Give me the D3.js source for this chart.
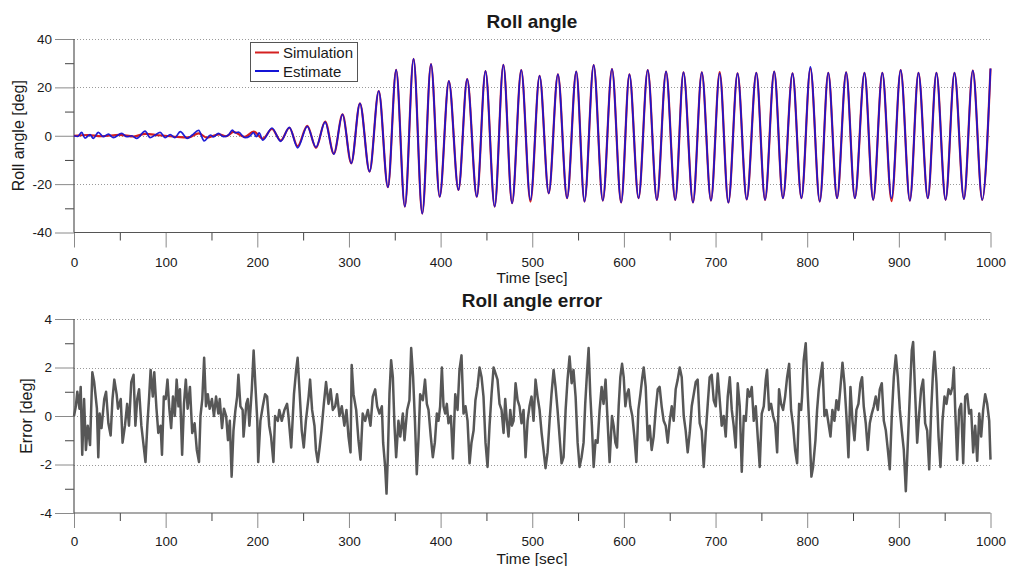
<!DOCTYPE html>
<html><head><meta charset="utf-8">
<script src="https://cdn.jsdelivr.net/npm/d3@7"></script>
<style>
body{margin:0;background:#fff;}
text{font-family:Arial,"Liberation Sans",sans-serif;fill:#1a1a1a;}
</style></head>
<body>
<script>
// ---------- DATA ----------
// x-axis ticks
const timeMajorTicks = [0,100,200,300,400,500,600,700,800,900,1000];
const timeMinorTicks = [50,150,250,350,450,550,650,750,850,950];
// top panel ticks
const rollMajorTicks = [-40,-20,0,20,40];
const rollMinorTicks = [-30,-10,10,30];
// bottom panel ticks
const errMajorTicks = [-4,-2,0,2,4];
const errMinorTicks = [-3,-1,1,3];

// Roll angle: [time s, deg] — early, small-amplitude part of the simulation
const simEarly = [[0,0],[15,0.3],[30,-0.2],[50,0.4],[65,-0.3],[78,0.8],[92,0.2],[108,-0.3],[125,-0.7],[136,1.0],[145,-0.8],[158,0.6],[166,-0.2],[174,1.6],[186,-0.5],[196,1.7],[206,-1.2],[216,2.8],[225.5,-2.0],[235,3.3],[244,-4.3],[254.5,4.1],[264,-5.0],[274,5.9],[283.5,-7.4]];
// early, noisy part of the estimate
const estEarly = [[0,0],[4,-0.3],[8.4,1.4],[12,-1],[17.5,0.5],[21,-1.1],[26.6,1.4],[32,-0.4],[37.5,0.7],[43,-0.8],[52,1],[57.7,-0.4],[63,0],[68.5,-1.1],[77.6,1.9],[83,-0.8],[88.5,0.3],[94,1.4],[99.5,-0.8],[105,0.5],[110,-0.8],[116,1.7],[123.5,-1.1],[129,0.3],[136,2.2],[142,-2.1],[149,0.3],[152,-0.5],[157.6,1],[163,-0.4],[168.5,0.3],[172.8,2.3],[176,1.2],[179.4,1.5],[186.6,-0.8],[192,-0.1],[195.8,1.3],[199,-0.4],[202,1.2],[206,-1.8],[216,3.2],[225.5,-2.3],[235,3.5],[244,-5],[254.5,3.9],[264,-4.8],[274,5.6],[283.5,-7.6]];
// large oscillation peaks / troughs (both signals)
const rollSwing = [[293,8.8],[302.5,-11.4],[312,13.4],[322.5,-14.8],[332.5,18.5],[342.5,-21.3],[351.5,27.2],[361,-29.3],[370.5,31.8],[380,-32.2],[389.5,29.6],[399,-25.2],[409,22.6],[419.5,-22.4],[429,23.4],[439.5,-25.2],[449,26.7],[459,-29.3],[468.5,29.3],[478,-27.9],[488,27.1],[498,-26.5],[508,24.8],[518,-23.8],[528,25.4],[538,-25.8],[548,26.5],[557,-27.2],[567,29.2],[577,-26.8],[587,27.6],[597,-27.6],[606,25.4],[616,-25.8],[626,27.1],[636,-26.5],[646,26.5],[656,-26.5],[665,26.2],[675.4,-27.6],[685,26.2],[695,-26.8],[704.5,25.8],[714,-27.6],[724,25.8],[734,-26.3],[744.5,26.0],[754,-26.5],[764,26.5],[773.5,-25.8],[784,25.8],[793.7,-25.8],[803.5,28.5],[813.7,-27.2],[823,26.0],[832.6,-25.8],[842.5,26.2],[852,-25.8],[862.5,26.0],[872,-26.5],[882,26.0],[892,-25.8],[902,27.1],[912,-26.8],[921.4,26.0],[931.6,-25.8],[941,26.0],[951,-26.5],[960.7,26.0],[971,-26.1],[980.7,26.9],[991,-26.5],[1000,27.8]];
// sim extremes that differ slightly from the estimate
const simDeeper = [[892,-27.0],[803.5,27.8],[704.5,26.3],[498,-27.2]];

// Roll angle error: [time s, deg]
const errorA = [[0,0],[2,0.4],[3.6,1.0],[6,0.3],[7.3,1.2],[9,-1.6],[11,0.7],[13,-1.4],[15,-0.4],[17.5,-1.2],[20,1.8],[22,1.4],[25,0.3],[26.5,-1.7],[28,0.1],[30,-0.5],[33,0.7],[35,1.0],[37.5,-0.3],[40,-0.8],[42,0.7],[44,1.5],[46.5,0.9],[48,0.3],[51,0.7],[53,-1.1],[55.6,-0.4],[58,0.5],[60,-0.4],[62.5,1.4],[65,1.7],[67,-0.4],[69,0.7],[71,1.1],[73.5,-0.4],[75.6,-1.1],[78,-1.9],[80,-0.4],[82,0.8],[83.6,1.9],[86,0.8],[87.6,1.8],[90,0.3],[92,-0.7],[94.5,-0.4],[96,-1.6],[98,0.8],[100,0.7],[102,1.5],[104,0.3],[106,-0.5],[108,0.8],[110,0],[112,1.5],[114,0.4],[115.6,1.1],[118,-1.6],[120,0.5],[122,1.5],[124,0.3],[126.5,1.2],[129,-0.7],[131.6,-0.3],[134,-1.4],[136.4,-1.9],[138,0],[140,0.7],[142,2.4],[144,0.4],[146,0.9],[148,0.3],[150.5,0.7],[152.7,0],[155,0.8],[157.5,0.1],[159,0.7],[161.5,-0.5],[163.6,0.3],[166,0],[168,-1],[170,-0.2],[172,-2.5],[174,-0.6],[176,0.2],[178,0.8],[179.4,1.7],[181.6,0.4],[184,0.25],[185,-0.85],[188,0.5],[189.6,0.7],[191.4,-0.4],[194,1.1],[196,2.7],[198,1.2],[200,-0.2],[201,-1.9],[203.4,-0.2],[206,0.4],[208.5,0.9],[210.7,0.8],[213,-0.4],[215,-0.85],[217.6,-1.9],[219.4,0],[222.4,-0.2],[224,0.25],[226.7,-0.2],[229.6,0.25],[232.5,0.5],[234,0],[237,-1.3],[240,0.9],[242.4,1.9],[244,2.4],[246,1.1],[248.5,-0.6],[250.7,-1.3],[253,-0.2],[256,0.8],[257.6,1.5],[259.8,0.25],[262.4,-0.4],[264,-1.4],[266,-1.9],[268,-1.3],[270,-0.6],[272.6,0.5],[275,1.4],[277.7,0.5],[280,1.1],[282.4,0.25],[285,0.4],[287,0.9],[289.7,0],[292.2,0.4],[295,-0.4],[297.3,0.25],[299.5,-0.85],[301.7,-1.5],[303,2.1],[305,0.9],[307.9,0.25],[310.4,-1],[312.6,-1.8],[315,0.1],[317.7,-0.2],[320.6,0.25],[323.5,-0.4],[326,0.8],[328.6,1.1],[330.8,0.4],[333.3,0.1],[335.9,0.4],[337.3,-1.1],[339.5,-2.1],[341,-3.2],[342.4,-1.7],[344.2,0.9],[346,2.3],[347.9,1.6],[349.7,-0.4],[351.5,-1.7],[354,-0.2],[356,-0.85],[358.8,0.1],[360.6,-1],[363.5,0.25],[366,0.65],[367.9,2.8],[370,1.6],[372,-0.2],[374,-2.4],[376,-0.85]];
const errorB = [[377.7,0.9],[380.6,0.65],[383,1.5],[385,0.5],[386.8,0.25],[389.3,-0.85],[391.5,-1.7],[393.7,-1.1],[395.9,0.1],[397.7,-0.2],[399.5,0.4],[401.4,2.0],[403.2,0.4],[405,0.1],[406.8,0.5],[408.6,-0.3],[411.2,0],[413.4,-1.75],[416,0.9],[418.5,0.25],[420.6,1.9],[422.8,2.5],[425,0.1],[427.2,0.4],[429.4,-0.2],[431.6,-1.95],[433.7,-1.1],[436,-0.6],[438,0.65],[440.3,1.2],[442.5,2.0],[444.7,1.6],[446.8,0.8],[449,-1.1],[451.2,-2.1],[453.4,-0.4],[455.6,0.9],[457.8,2.0],[460,1.75],[462.1,1.5],[464.3,0.5],[466.5,0.25],[468.7,-0.7],[470.5,0.7],[472.3,-0.2],[474.1,-0.85],[476,0.25],[477.8,-0.4],[479.6,-0.2],[481.8,1.35],[484,0.65],[486.1,0.4],[488.3,-0.3],[490.5,0.25],[492.7,-1.7],[494.9,-0.2],[497,0.4],[499.2,0.8],[501.4,-0.2],[503.6,1.5],[505.8,0.8],[508,0.25],[510.2,-0.7],[512.3,-1.4],[514.5,-2.15],[516.7,-1.5],[518.9,-0.2],[521,0.9],[523.3,1.9],[525.4,1.2],[527.6,0.25],[529.8,-0.85],[532,-1.95],[534.2,-1.7],[536.4,0.25],[538.5,1.5],[540.7,2.45],[543,1.35],[545,1.9],[547.3,0.8],[549.5,-1.1],[551.6,-2.1],[553.8,-1.7],[556,-1.1],[557.8,0.5],[559.7,1.75],[561.5,2.8],[563.3,0.9],[565.1,-0.4],[567,-2.1],[569.1,-1],[571.3,-1.1],[573.5,0.25],[575.7,1.2],[577.8,0.5],[580,1.5],[582.2,-0.2],[584.4,-1.9]];
const errorC = [[587,0],[588.8,-0.4],[590.7,-1.1],[592.5,-1.3],[594.3,0.4],[596.1,1.6],[598,2.15],[599.8,1.6],[601.6,0.4],[603.4,0.9],[605.2,1.1],[607,0.4],[609.2,0],[611.4,-0.85],[613.6,-1.9],[615.8,0.25],[618,0.9],[620.1,1.6],[621.6,2.0],[623.8,1.2],[626,-1],[628.1,-0.4],[630.3,-1.4],[632.5,-0.85],[634.7,0.25],[636.9,1.1],[639,1.2],[641.2,0.4],[643.4,-0.2],[645.6,-0.4],[647.8,-1.1],[650,-0.2],[652.2,0.4],[654.3,-0.2],[656.5,1.1],[658.7,1.5],[660.9,2.0],[663.1,1.6],[665.3,0],[667.4,-0.6],[669.6,-1.5],[671.8,-0.7],[674,0.4],[676.2,0.9],[678.4,1.4],[680.5,1.5],[682.7,-0.3],[684.9,-0.6],[687.1,-2.1],[689.3,-0.7],[691.5,0.5],[693.6,1.6],[695.8,1.7],[698,0.65],[700.2,0.4],[702.4,1.75],[704.6,0.65],[706.7,-0.4],[708.9,0],[711.1,-0.85],[713.3,0.8],[715.5,1.6],[717.7,0.25],[719.8,-0.4],[722,-1.3],[724.2,1.35],[726.4,0.4],[728.6,-2.3],[730.8,0],[733,-0.2],[735.1,1.1],[737.3,0.8],[739.5,1.2],[741.7,-0.2],[743.9,0.4],[746,-0.85],[748.2,-2.1],[750.4,0.1],[752.6,0.4],[754.8,1.5],[756.2,1.9],[758.4,0.25],[760.6,0.5],[762.8,0],[765,-0.3],[767.2,-1.5],[769.3,1.1],[771.5,0.5],[773.7,0.25],[775.9,0.8],[778.1,1.6],[780.3,2.15],[782.4,0.25],[784.6,-0.4],[786.8,-1.4],[789,-1.95],[791.2,0.5],[793.4,0.25]];
const errorD = [[794.4,0.8],[796.2,2.3],[798.4,3.0],[800.6,0.9],[802.8,-0.85],[804.6,-2.5],[806.4,-2.1],[809,-1],[810.8,0.25],[812.6,1.1],[814.4,1.6],[816.6,2.2],[818.8,0],[821,0.25],[823.2,-0.3],[825.4,-0.85],[827.5,0.25],[829.7,-0.2],[831.9,0.65],[834.1,0.25],[836.3,1.2],[838.5,2.2],[840.6,1.35],[842.8,0],[845,-1.7],[847.2,1.2],[849.4,-0.2],[851.6,-1],[853.7,0.25],[855.9,0.5],[858.1,1.35],[859.9,1.6],[861.7,0.4],[863.9,-0.3],[866.1,-1.4],[868.3,-0.3],[870.5,0.1],[872.7,0.4],[874.8,0.8],[877,0.25],[879.2,1.1],[881.4,1.35],[883.6,-0.2],[885.8,-0.6],[888,-1.4],[890.1,-2.2],[892.3,0],[894.5,1.6],[896.7,2.5],[898.9,1.6],[901.1,0.25],[903.2,-0.6],[905.4,-1.4],[907.6,-3.1],[909.8,-1.1],[912,0.9],[914.1,2.7],[915.6,3.05],[917.8,0.9],[920,-1.1],[922.2,0.1],[924.3,1.1],[926.5,1.5],[928.7,-0.3],[930.9,-0.6],[933.1,-2.2],[935.3,0.25],[937.4,1.9],[938.9,2.65],[941.1,1.35],[943.3,-0.85],[945.4,-2.1],[947.6,-0.2],[949.8,0.8],[952,0.5],[954.2,1.1],[956.4,0.9],[958.5,1.2],[960,2.0],[961.5,0.25],[963.6,-1.8],[965.8,0.25],[968,0.5],[970.2,-1.95],[972.4,0.8],[974.6,0.9],[976.7,0.1],[978.9,0.25],[981.1,-1.5],[983.3,-0.4],[985.5,-1.85],[987.7,0.1],[989.8,-0.85],[992,0.25],[994.2,0.9],[996.4,0.5],[998.6,-0.2],[1000,-1.8]];

// ---------- DRAW ----------
const W = 1011, H = 566;
const svg = d3.select("body").append("svg").attr("width", W).attr("height", H);
const x = d3.scaleLinear().domain([0,1000]).range([74,990.5]);

function panel(cfg){
  const y = cfg.y;
  const g = svg.append("g");
  g.selectAll("line.grid").data(cfg.major.filter(v => v !== cfg.major[0]))
    .enter().append("line")
    .attr("x1", x(0)).attr("x2", x(1000))
    .attr("y1", d => Math.round(y(d))+0.5).attr("y2", d => Math.round(y(d))+0.5)
    .attr("stroke", "#9a9a9a").attr("stroke-dasharray", "1,2").attr("stroke-width", 1);

  const yMaj = g.append("g").attr("transform", `translate(${x(0)},0)`)
    .call(d3.axisLeft(y).tickValues(cfg.major).tickSize(19).tickPadding(3).tickFormat(d => String(d)));
  yMaj.select(".domain").remove();
  yMaj.selectAll(".tick line").attr("stroke", "#8a8a8a");
  yMaj.selectAll(".tick text").style("font-size", "13.5px").attr("fill", "#1a1a1a");
  const yMin = g.append("g").attr("transform", `translate(${x(0)},0)`)
    .call(d3.axisLeft(y).tickValues(cfg.minor).tickSize(9).tickFormat(""));
  yMin.select(".domain").remove();
  yMin.selectAll(".tick line").attr("stroke", "#444");

  const yBottom = y(cfg.major[0]);
  const xMaj = g.append("g").attr("transform", `translate(0,${yBottom})`)
    .call(d3.axisBottom(x).tickValues(timeMajorTicks).tickSize(15).tickPadding(cfg.xPad).tickFormat(d => String(d)));
  xMaj.select(".domain").remove();
  xMaj.selectAll(".tick line").attr("stroke", "#8a8a8a");
  xMaj.selectAll(".tick text").style("font-size", "13.5px").attr("fill", "#1a1a1a");
  const xMin = g.append("g").attr("transform", `translate(0,${yBottom})`)
    .call(d3.axisBottom(x).tickValues(timeMinorTicks).tickSize(8).tickFormat(""));
  xMin.select(".domain").remove();
  xMin.selectAll(".tick line").attr("stroke", "#444");

  g.append("line").attr("x1", x(0)).attr("x2", x(0))
    .attr("y1", y(cfg.major[cfg.major.length-1])).attr("y2", yBottom)
    .attr("stroke", "#555").attr("stroke-width", 1.2);
  g.append("line").attr("x1", x(0)).attr("x2", x(1000))
    .attr("y1", yBottom).attr("y2", yBottom)
    .attr("stroke", "#555").attr("stroke-width", 1.2);

  g.append("text").attr("x", 532).attr("y", cfg.titleY).attr("text-anchor", "middle")
    .style("font-size", "19px").style("font-weight", "bold").text(cfg.title);
  g.append("text").attr("x", 532).attr("y", yBottom + cfg.xlabelOffset).attr("text-anchor", "middle")
    .style("font-size", "15.5px").text("Time [sec]");
  g.append("text")
    .attr("transform", `translate(${cfg.ylabelX},${(y(cfg.major[0])+y(cfg.major[cfg.major.length-1]))/2}) rotate(-90)`)
    .attr("text-anchor", "middle").style("font-size", "16px").text(cfg.ylabel);
  return g;
}

// ---- top panel
const y1 = d3.scaleLinear().domain([-40,40]).range([232.5,39]);
const topPanel = panel({y: y1, major: rollMajorTicks, minor: rollMinorTicks, title: "Roll angle",
  titleY: 28, xlabelOffset: 50, xPad: 10, ylabel: "Roll angle [deg]", ylabelX: 24});

const rollLine = d3.line().x(d => x(d[0])).y(d => y1(d[1])).curve(d3.curveMonotoneX);
const deeperMap = new Map(simDeeper.map(d => [d[0], d[1]]));
const simData = simEarly.concat(rollSwing.map(d => deeperMap.has(d[0]) ? [d[0], deeperMap.get(d[0])] : d));
const estData = estEarly.concat(rollSwing);
topPanel.append("path").datum(simData).attr("d", rollLine)
  .attr("fill", "none").attr("stroke", "#d42020").attr("stroke-width", 2.2);
topPanel.append("path").datum(estData).attr("d", rollLine)
  .attr("fill", "none").attr("stroke", "#1414d6").attr("stroke-width", 1.7).attr("stroke-opacity", 0.95);

const lg = topPanel.append("g");
lg.append("rect").attr("x", 250.5).attr("y", 42.5).attr("width", 107).attr("height", 39)
  .attr("fill", "#fff").attr("stroke", "#555").attr("stroke-width", 1);
lg.append("line").attr("x1", 255).attr("x2", 279).attr("y1", 52.5).attr("y2", 52.5)
  .attr("stroke", "#d42020").attr("stroke-width", 2);
lg.append("line").attr("x1", 255).attr("x2", 279).attr("y1", 71).attr("y2", 71)
  .attr("stroke", "#1414d6").attr("stroke-width", 2);
lg.append("text").attr("x", 283).attr("y", 58).style("font-size", "15px").text("Simulation");
lg.append("text").attr("x", 283).attr("y", 77).style("font-size", "15px").text("Estimate");

// ---- bottom panel
const y2 = d3.scaleLinear().domain([-4,4]).range([513,319]);
const botPanel = panel({y: y2, major: errMajorTicks, minor: errMinorTicks, title: "Roll angle error",
  titleY: 307, xlabelOffset: 51, xPad: 8, ylabel: "Error [deg]", ylabelX: 32});
const errData = errorA.concat(errorB, errorC, errorD);
const errLine = d3.line().x(d => x(d[0])).y(d => y2(d[1]));
botPanel.append("path").datum(errData).attr("d", errLine)
  .attr("fill", "none").attr("stroke", "#575757").attr("stroke-width", 2.5).attr("stroke-linejoin", "round");
</script>
</body></html>
